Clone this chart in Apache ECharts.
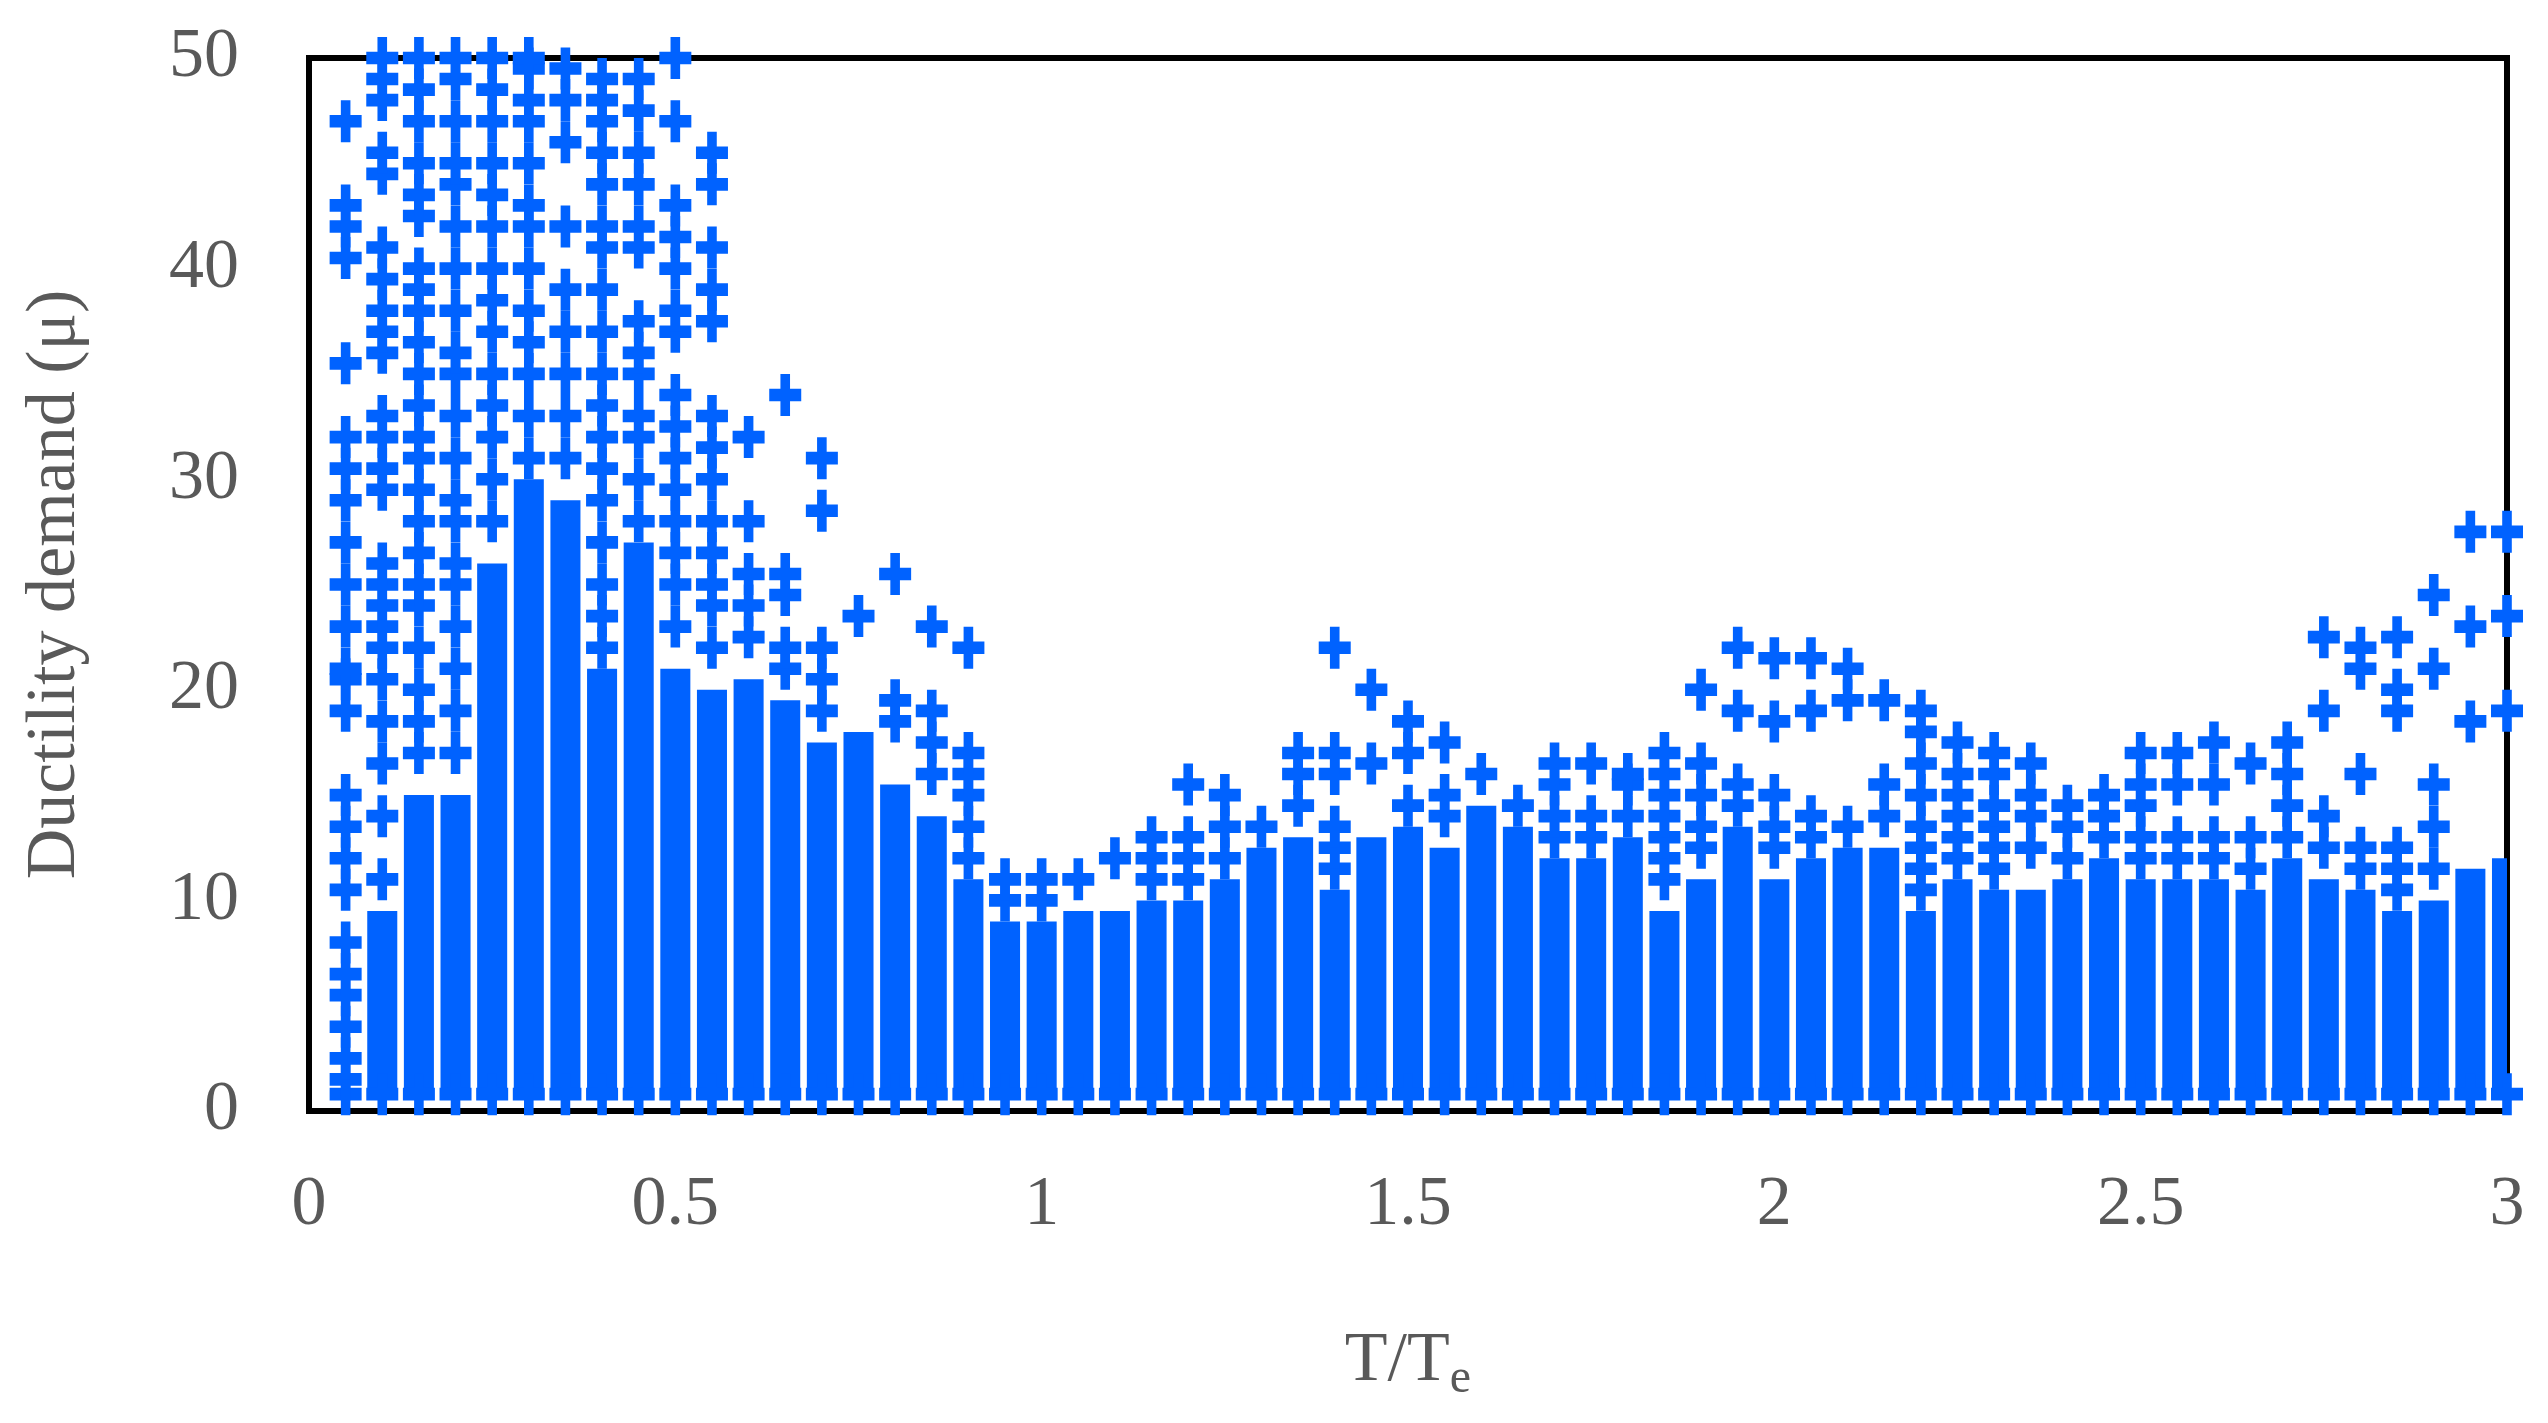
<!DOCTYPE html>
<html>
<head>
<meta charset="utf-8">
<script src="https://cdn.jsdelivr.net/npm/echarts@6/dist/echarts.min.js"></script>
<style>html,body{margin:0;padding:0;background:#fff}#main{width:2548px;height:1423px}</style>
</head>
<body>
<div id="main"></div>
<script>
// T/Te period ratios, one column of results each
var periods = [0.05,0.10,0.15,0.20,0.25,0.30,0.35,0.40,0.45,0.50,0.55,0.60,0.65,0.70,0.75,0.80,0.85,0.90,0.95,1.00,
  1.05,1.10,1.15,1.20,1.25,1.30,1.35,1.40,1.45,1.50,1.55,1.60,1.65,1.70,1.75,1.80,1.85,1.90,1.95,2.00,
  2.05,2.10,2.15,2.20,2.25,2.30,2.35,2.40,2.45,2.50,2.55,2.60,2.65,2.70,2.75,2.80,2.85,2.90,2.95,3.00];
// top of the dense (solid) band of markers per column
var denseTop = [0,9.5,15,15,26,30,29,21,27,21,20,20.5,19.5,17.5,18,15.5,14,11,9,9,
  9.5,9.5,10,10,11,12.5,13,10.5,13,13.5,12.5,14.5,13.5,12,12,13,9.5,11,13.5,11,
  12,12.5,12.5,9.5,11,10.5,10.5,11,12,11,11,11,10.5,12,11,10.5,9.5,10,11.5,12];
var denseBase = 1.0;
// individual ductility results above the dense band
var scattered = [
  [0.8,1.5,2.5,4,5.5,6.5,8,10.5,12,13.5,15,19,20.5,21,23,25,27,29,30.5,32,35.5,40.5,42,43,47],
  [0.8,11,14,16.5,18.5,20.5,22,23,24,25,26,29.5,30.5,32,33,36,37,38,39.5,41,44.5,45.5,48,49,50],
  [0.8,17,18.5,20,22,24,25,26.5,28,29.5,31,32,33.5,35,36.5,38,39,40,42.5,43.5,45,47,48.5,50],
  [0.8,17,19,21,23,25,26,28,29,31,33,35,36,38,40,42,44,45,47,49,50],
  [0.8,28,30,32,33.5,35,37,38.5,40,42,43.5,45,47,48.5,50],
  [0.8,31,33,35,36.5,38,40,42,43,45,47,48,49.5,50],
  [0.8,31,33,35,37,39,42,46,48,49.5],
  [0.8,22,23.5,25,27,29,30.5,32,33.5,35,37,39,41,42,44,45.5,47,48,49],
  [0.8,28,30,32,33,35,36,37.5,41,42,44,45.5,47.5,49],
  [0.8,23,25,26.5,28,29.5,31,32.5,34,37,38,40,41.5,43,47,50],
  [0.8,22,24,25,26.5,28,30,31.5,33,37.5,39,41,44,45.5],
  [0.8,22.5,24,25.5,28,32],
  [0.8,21,22,24.5,25.5,34],
  [0.8,19,20.5,22,28.5,31],
  [0.8,23.5],
  [0.8,18.5,19.5,25.5],
  [0.8,16,17.5,19,23],
  [0.8,12,13.5,15,16,17,22],
  [0.8,10,11],
  [0.8,10,11],
  [0.8,11],
  [0.8,12],
  [0.8,11,12,13],
  [0.8,11,12,13,15.5],
  [0.8,12,13.5,15],
  [0.8,13.5],
  [0.8,14.5,16,17],
  [0.8,11.5,12.5,13.5,16,17,22],
  [0.8,16.5,20],
  [0.8,14.5,17,18.5],
  [0.8,14,15,17.5],
  [0.8,16],
  [0.8,14.5],
  [0.8,13,14,15.5,16.5],
  [0.8,13,14,16.5],
  [0.8,14,15.5,16],
  [0.8,11,12,13,14,15,16,17],
  [0.8,12.5,13.5,15,16.5,20],
  [0.8,14.5,15.5,19,22],
  [0.8,12.5,13.5,15,18.5,21.5],
  [0.8,13,14,19,21.5],
  [0.8,13.5,19.5,21],
  [0.8,14,15.5,19.5],
  [0.8,10.5,11.5,12.5,13.5,15,16.5,18,19],
  [0.8,12,13,14,15,16,17.5],
  [0.8,11.5,12.5,13.5,14.5,16,17],
  [0.8,12.5,14,15,16.5],
  [0.8,12,13.5,14.5],
  [0.8,13,14,15],
  [0.8,12,13,14.5,15.5,17],
  [0.8,12,13,15.5,17],
  [0.8,12,13,15.5,17.5],
  [0.8,11.5,13,16.5],
  [0.8,13,14.5,16,17.5],
  [0.8,12.5,14,19,22.5],
  [0.8,11.5,12.5,16,21,22],
  [0.8,10.5,11.5,12.5,19,20,22.5],
  [0.8,11.5,13.5,15.5,21,24.5],
  [0.8,18.5,23,27.5],
  [0.8,19,23.5,27.5]
];
var xTicks = [0,0.5,1,1.5,2,2.5,3];
var yTicks = [0,10,20,30,40,50];

var blue = '#0062FF';
var bandData = [];
var pointData = [];
periods.forEach(function (t, i) {
  if (denseTop[i] > denseBase) bandData.push([t, denseBase, denseTop[i]]);
  scattered[i].forEach(function (v) { pointData.push([t, v]); });
});

var chart = echarts.init(document.getElementById('main'));
var font = '"Liberation Serif", "Times New Roman", serif';
var grey = '#595959';
chart.setOption({
  animation: false,
  grid: { left: 309, right: 41, top: 58, bottom: 312, show: true, borderColor: '#000', borderWidth: 6, backgroundColor: '#fff' },
  xAxis: {
    type: 'value', min: 0, max: 3, interval: 0.5,
    name: '{a|T/T}{s|e}', nameLocation: 'middle', nameGap: 210,
    nameTextStyle: { rich: { a: { fontFamily: font, fontSize: 70, color: grey }, s: { fontFamily: font, fontSize: 48, color: grey, padding: [34, 0, 0, 0] } } },
    axisLine: { show: false }, axisTick: { show: false }, splitLine: { show: false },
    axisLabel: { fontFamily: font, fontSize: 70, color: grey, margin: 60, formatter: function (v) { return xTicks.indexOf(v) >= 0 ? String(v) : ''; } }
  },
  yAxis: {
    type: 'value', min: 0, max: 50, interval: 10,
    name: 'Ductility demand (μ)', nameLocation: 'middle', nameGap: 218,
    nameTextStyle: { fontFamily: font, fontSize: 70, color: grey },
    axisLine: { show: false }, axisTick: { show: false }, splitLine: { show: false },
    axisLabel: { fontFamily: font, fontSize: 70, color: grey, margin: 70, formatter: function (v) { return yTicks.indexOf(v) >= 0 ? String(v) : ''; } }
  },
  series: [
    {
      type: 'custom', data: bandData, clip: true,
      renderItem: function (params, api) {
        var w = api.size([0.05, 0])[0] * 0.82;
        var p0 = api.coord([api.value(0), api.value(1)]);
        var p1 = api.coord([api.value(0), api.value(2)]);
        return { type: 'rect', shape: { x: p0[0] - w / 2, y: p1[1], width: w, height: p0[1] - p1[1] }, style: { fill: blue } };
      }
    },
    {
      type: 'scatter', data: pointData, clip: false,
      symbol: 'path://M3.5,0h3v3.5h3.5v3h-3.5v3.5h-3v-3.5h-3.5v-3h3.5z', symbolSize: [32, 42],
      itemStyle: { color: blue, opacity: 1 }
    }
  ]
});
</script>
</body>
</html>
